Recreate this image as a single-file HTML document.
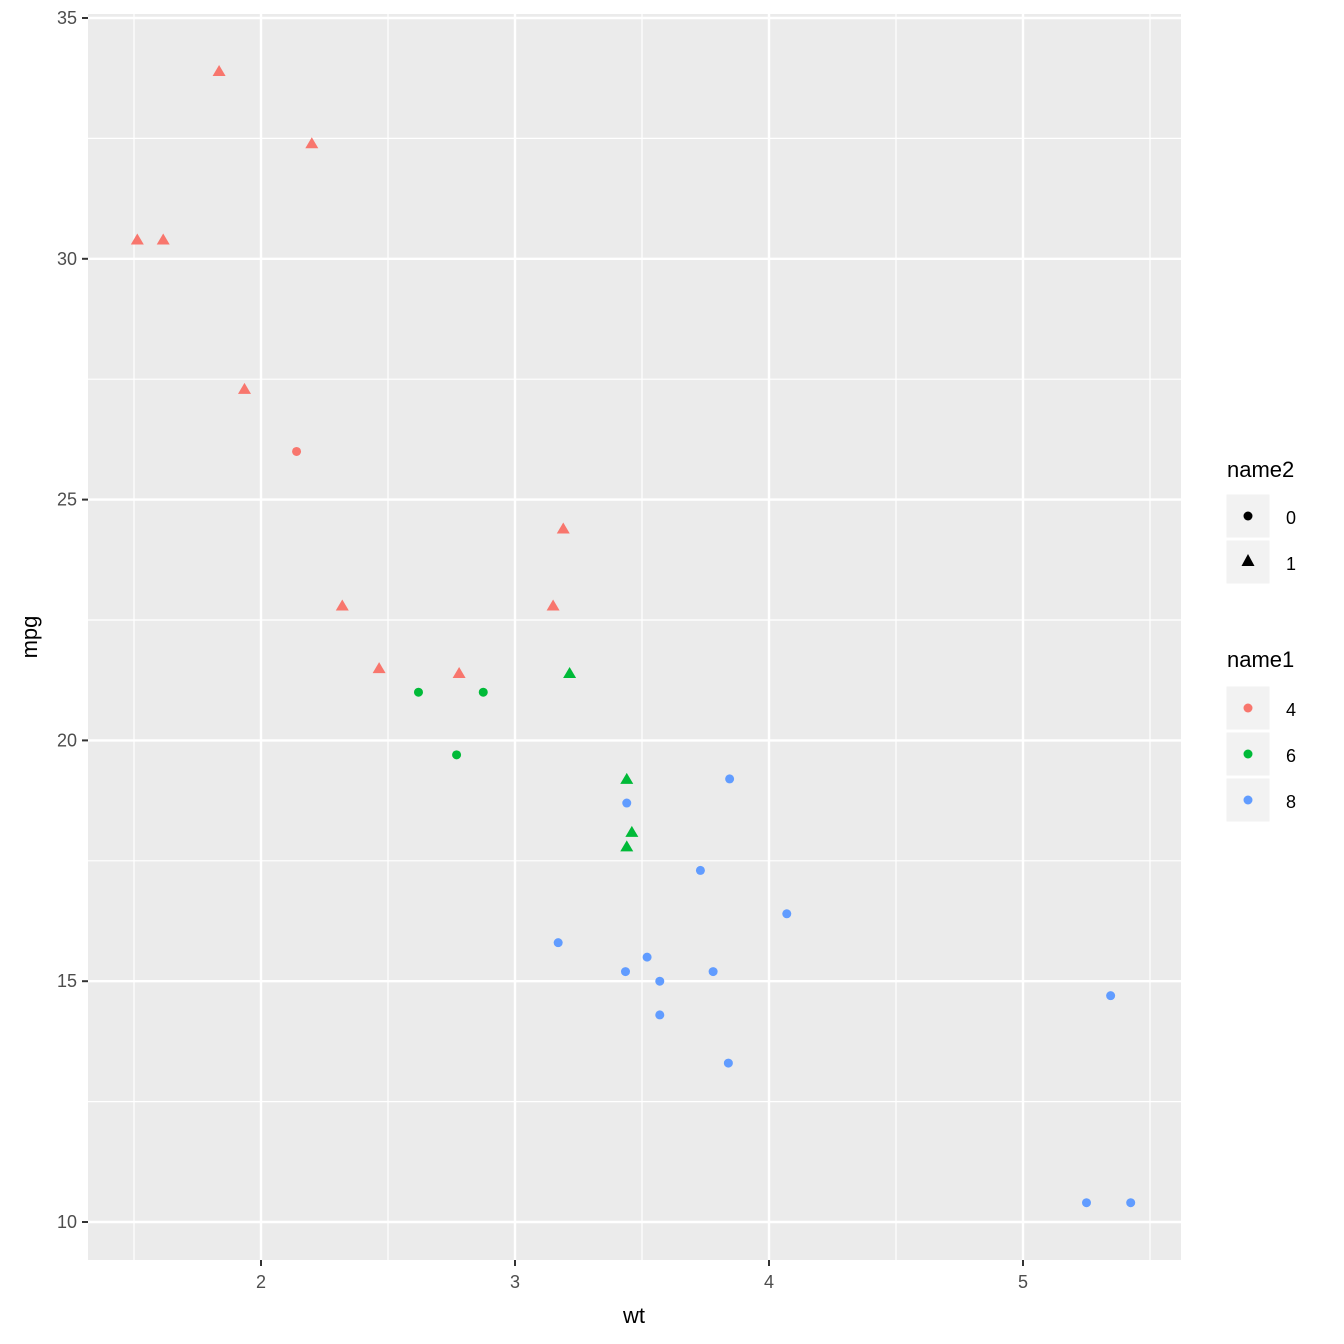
<!DOCTYPE html>
<html><head><meta charset="utf-8"><style>
body{margin:0;background:#fff;}
svg{display:block;font-family:"Liberation Sans",Arial,sans-serif;}
</style></head><body>
<svg id="c" width="1344" height="1344" viewBox="0 0 1344 1344">
<rect x="0" y="0" width="1344" height="1344" fill="#fff"/>
<rect x="88" y="14" width="1093" height="1246" fill="#EBEBEB"/>
<g id="grid"></g>
<g id="pts"></g>
<g id="axes"></g>
<text x="634" y="1323" font-size="22" text-anchor="middle" fill="#000">wt</text>
<text transform="translate(37,637) rotate(-90)" font-size="22" text-anchor="middle" fill="#000">mpg</text>
<g>
<text x="1227" y="477" font-size="22">name2</text>
<rect x="1226" y="494" width="44" height="44" fill="#F2F2F2" stroke="#fff" stroke-width="1"/>
<circle cx="1248" cy="516" r="4.5" fill="#000"/>
<text x="1286" y="524" font-size="18">0</text>
<rect x="1226" y="540" width="44" height="44" fill="#F2F2F2" stroke="#fff" stroke-width="1"/>
<path d="M1248,554 L1254.5,566 L1241.5,566 Z" fill="#000"/>
<text x="1286" y="570" font-size="18">1</text>
</g>
<g>
<text x="1227" y="667" font-size="22">name1</text>
<rect x="1226" y="686" width="44" height="44" fill="#F2F2F2" stroke="#fff"/>
<circle cx="1248" cy="708" r="4.5" fill="#F8766D"/>
<text x="1286" y="716" font-size="18">4</text>
<rect x="1226" y="732" width="44" height="44" fill="#F2F2F2" stroke="#fff"/>
<circle cx="1248" cy="754" r="4.5" fill="#00BA38"/>
<text x="1286" y="762" font-size="18">6</text>
<rect x="1226" y="778" width="44" height="44" fill="#F2F2F2" stroke="#fff"/>
<circle cx="1248" cy="800" r="4.5" fill="#619CFF"/>
<text x="1286" y="808" font-size="18">8</text>
</g>
</svg>
<script>
const wt=[2.620,2.875,2.320,3.215,3.440,3.460,3.570,3.190,3.150,3.440,3.440,4.070,3.730,3.780,5.250,5.424,5.345,2.200,1.615,1.835,2.465,3.520,3.435,3.840,3.845,1.935,2.140,1.513,3.170,2.770,3.570,2.780];
const mpg=[21.0,21.0,22.8,21.4,18.7,18.1,14.3,24.4,22.8,19.2,17.8,16.4,17.3,15.2,10.4,10.4,14.7,32.4,30.4,33.9,21.5,15.5,15.2,13.3,19.2,27.3,26.0,30.4,15.8,19.7,15.0,21.4];
const cyl=[6,6,4,6,8,6,8,4,4,6,6,8,8,8,8,8,8,4,4,4,4,8,8,8,8,4,4,4,8,6,8,4];
const vs=[0,0,1,1,0,1,0,1,1,1,1,0,0,0,0,0,0,1,1,1,1,0,0,0,0,1,0,1,0,0,0,1];
const xTicks=[2,3,4,5];
const yTicks=[10,15,20,25,30,35];
const NS="http://www.w3.org/2000/svg";
const X=v=>-247+v*254, Y=v=>1222-(v-10)*48.16;
const col={4:"#F8766D",6:"#00BA38",8:"#619CFF"};
function mk(t,a,p){const e=document.createElementNS(NS,t);for(const k in a)e.setAttribute(k,a[k]);p.appendChild(e);return e;}
const g=document.getElementById('grid'),ax=document.getElementById('axes'),pg=document.getElementById('pts');
for(let i=0;i<xTicks.length;i++){const v=xTicks[i];
 [v-0.5,v+0.5].forEach(m=>{if(i==0||m>v){const l=mk('line',{x1:X(m),x2:X(m),y1:14,y2:1260,stroke:'#fff','stroke-width':1.2},g);}});
 const l=mk('line',{x1:X(v),x2:X(v),y1:14,y2:1260,stroke:'#fff','stroke-width':2.4},g);
 
 
 mk('line',{x1:X(v),x2:X(v),y1:1260,y2:1266,stroke:'#333','stroke-width':2},ax);
 const t=mk('text',{x:X(v),y:1288,'font-size':18,'text-anchor':'middle',fill:'#4D4D4D'},ax);t.textContent=v;
 
 
}
for(let i=0;i<yTicks.length;i++){const v=yTicks[i];
 if(i<yTicks.length-1){const m=mk('line',{x1:88,x2:1181,y1:Y(v+2.5),y2:Y(v+2.5),stroke:'#fff','stroke-width':1.2},g);}
 const l=mk('line',{x1:88,x2:1181,y1:Y(v),y2:Y(v),stroke:'#fff','stroke-width':2.4},g);
 
 
 mk('line',{x1:82,x2:88,y1:Y(v),y2:Y(v),stroke:'#333','stroke-width':2},ax);
 const t=mk('text',{x:77,y:Y(v)+6,'font-size':18,'text-anchor':'end',fill:'#4D4D4D'},ax);t.textContent=v;
 
 
}
for(let i=0;i<wt.length;i++){const x=X(wt[i]),y=Y(mpg[i]);let e;
 if(vs[i]==0)e=mk('circle',{cx:x,cy:y,r:4.5,fill:col[cyl[i]]},pg);
 else e=mk('path',{d:`M${x},${y-6} L${x+6.5},${y+5} L${x-6.5},${y+5} Z`,fill:col[cyl[i]]},pg);
 
 
}
</script>
</body></html>
